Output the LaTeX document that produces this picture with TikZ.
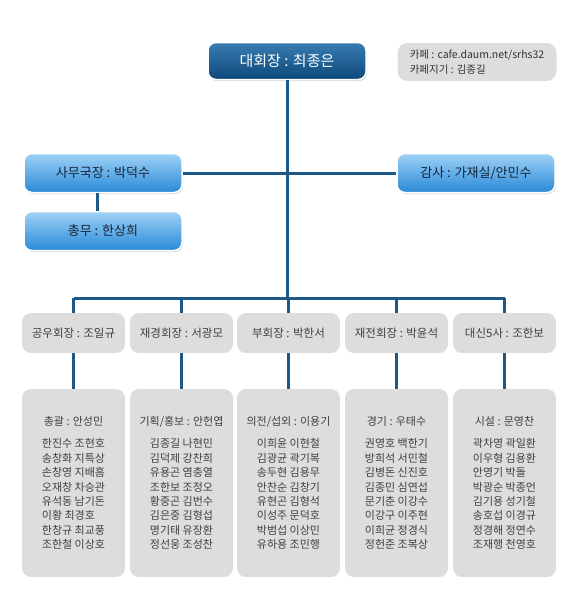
\documentclass[tikz,border=0pt]{standalone}
\usepackage{fontspec}
\setmainfont{Noto Sans CJK KR}
\usetikzlibrary{shadows,positioning}

\definecolor{linkblue}{RGB}{30,88,134}
\definecolor{chieftop}{RGB}{58,124,178}
\definecolor{chiefbot}{RGB}{12,72,122}
\definecolor{subtop}{RGB}{160,210,247}
\definecolor{subbot}{RGB}{40,138,216}
\definecolor{boxgray}{RGB}{221,221,221}
\definecolor{textgray}{RGB}{64,64,64}

\tikzset{
  link/.style={draw=linkblue, line width=3pt},
  chiefbox/.style={draw=white, line width=1.5pt, rounded corners=8pt,
    top color=chieftop, bottom color=chiefbot, text=white,
    minimum width=158pt, minimum height=37pt,
    font=\fontsize{15}{18}\selectfont,
    drop shadow={opacity=0.35, shadow xshift=1pt, shadow yshift=-1.5pt}},
  subbox/.style={draw=white, line width=1.5pt, rounded corners=8pt,
    top color=subtop, bottom color=subbot, text={rgb,255:red,22;green,36;blue,56},
    minimum width=158pt, minimum height=39pt,
    font=\fontsize{13}{16}\selectfont,
    drop shadow={opacity=0.3, shadow xshift=1pt, shadow yshift=-1.5pt}},
  infobox/.style={fill=boxgray, rounded corners=10pt, align=left,
    minimum width=159pt, minimum height=38pt, text={rgb,255:red,50;green,50;blue,50},
    font=\fontsize{10.5}{15.5}\selectfont},
  headbox/.style={fill=boxgray, rounded corners=9pt, text=textgray,
    minimum width=103pt, minimum height=40pt,
    font=\fontsize{11.5}{14}\selectfont},
  memberbox/.style={fill=boxgray, rounded corners=9pt,
    minimum width=103pt, minimum height=188pt},
  dutytext/.style={anchor=base, inner sep=0pt, text=textgray,
    font=\fontsize{11}{14}\selectfont},
  nametext/.style={anchor=north, inner sep=0pt, align=left, text=textgray,
    font=\fontsize{11}{14.4}\selectfont}
}

\begin{document}
\begin{tikzpicture}[x=1pt,y=1pt,yscale=-1,xscale=1]
\useasboundingbox (0,0) rectangle (579,598);

%Shape: top box
\node [chiefbox] (chief) at (287,61) {대회장 : 최종은};
%Shape: cafe info
\node [infobox] (info) at (477,62) {카페 : cafe.daum.net/srhs32\\카페지기 : 김종길};

%Shape: second level
\node [subbox] (sec) at (103,173) {사무국장 : 박덕수};
\node [subbox] (gm) at (103,231) {총무 : 한상희};
\node [subbox] (aud) at (476,173) {감사 : 가재실/안민수};

%Shape: heads
\node [headbox] (h1) at (73.5,333) {공우회장 : 조일규};
\node [headbox] (h2) at (181.5,333) {재경회장 : 서광모};
\node [headbox] (h3) at (288.5,333) {부회장 : 박한서};
\node [headbox] (h4) at (396.5,333) {재전회장 : 박윤석};
\node [headbox] (h5) at (504.5,333) {대신5사 : 조한보};

%Shape: member boxes
\node [memberbox] (m1) at (73.5,483) {};
\node [memberbox] (m2) at (181.5,483) {};
\node [memberbox] (m3) at (288.5,483) {};
\node [memberbox] (m4) at (396.5,483) {};
\node [memberbox] (m5) at (504.5,483) {};

%Straight Lines
\coordinate (bus) at (287,298);
\draw [link] (chief.south) -- (chief.south |- bus);
\draw [link] (sec.east) -- (aud.west);
\draw [link] ([xshift=-6pt]sec.south) -- ([xshift=-6pt]gm.north);
\draw [link] (h1.north |- bus) -- (h5.north |- bus);
\foreach \i in {1,...,5}{
  \draw [link] (h\i.north |- bus) -- (h\i.north);
  \draw [link] (h\i.south) -- (m\i.north);
}

% Text Node
\node [dutytext] (d1) at (73.5,425.5) {총괄 : 안성민};
\node [dutytext] (d2) at (181.5,425.5) {기획/홍보 : 안헌엽};
\node [dutytext] (d3) at (288.5,425.5) {의전/섭외 : 이용기};
\node [dutytext] (d4) at (396.5,425.5) {경기 : 우태수};
\node [dutytext] (d5) at (504.5,425.5) {시설 : 문영찬};

% Text Node
\node [nametext] (n1) at (73.5,438.5) {한진수 조현호\\송창화 지특상\\손창영 지배흠\\오재창 차승관\\유석동 남기돈\\이황 최경호\\한창규 최교풍\\조한철 이상호};
\node [nametext] (n2) at (181.5,438.5) {김종길 나현민\\김덕제 강찬희\\유용곤 염충열\\조한보 조정오\\황중곤 김번수\\김은중 김형섭\\명기태 유장환\\정선웅 조성찬};
\node [nametext] (n3) at (288.5,438.5) {이희윤 이현철\\김광균 곽기복\\송두현 김용무\\안찬순 김창기\\유현곤 김형석\\이성주 문덕호\\박범섭 이상민\\유하용 조민행};
\node [nametext] (n4) at (396.5,438.5) {권영호 백한기\\방희석 서민철\\김병돈 신진호\\김종민 심연섭\\문기춘 이강수\\이강구 이주현\\이희균 정경식\\정헌준 조복상};
\node [nametext] (n5) at (504.5,438.5) {곽차영 곽일환\\이우형 김용환\\안영기 박돌\\박광순 박종언\\김기용 성기철\\송호섭 이경규\\정경해 정연수\\조재행 천영호};

\end{tikzpicture}
\end{document}
